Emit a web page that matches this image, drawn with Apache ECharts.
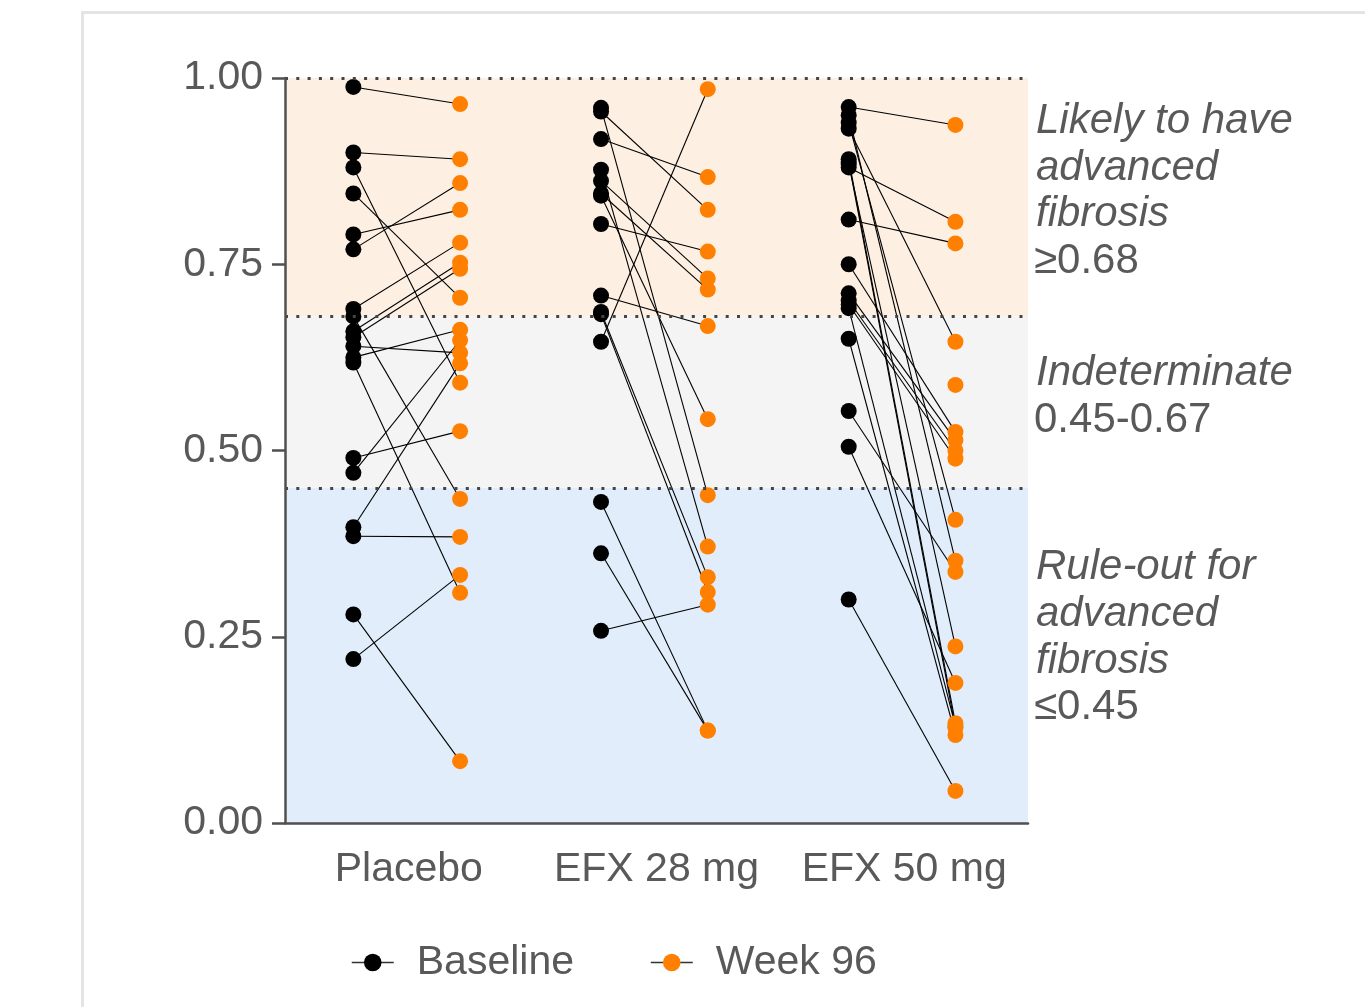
<!DOCTYPE html>
<html><head><meta charset="utf-8">
<script src="https://cdn.jsdelivr.net/npm/echarts@6/dist/echarts.min.js"></script>
<style>html,body{margin:0;padding:0;background:#fff}#c{width:1365px;height:1007px}</style>
</head><body><div id="c"></div>
<script>
// ---- data ----
const groups = ['Placebo', 'EFX 28 mg', 'EFX 50 mg'];
const yTickValues = [0, 0.25, 0.5, 0.75, 1.0];
const thresholds = [0.45, 0.68, 1.0];
const placeboBaseline = [0.988, 0.90, 0.88, 0.845, 0.79, 0.77, 0.69, 0.68, 0.66, 0.652, 0.64, 0.625, 0.618, 0.49, 0.47, 0.397, 0.385, 0.28, 0.22];
const placeboWeek96   = [0.965, 0.891, 0.591, 0.705, 0.823, 0.859, 0.779, 0.435, 0.752, 0.744, 0.631, 0.662, 0.309, 0.526, 0.648, 0.617, 0.384, 0.083, 0.333];
const efx28Baseline = [0.96, 0.955, 0.918, 0.877, 0.862, 0.845, 0.842, 0.804, 0.708, 0.686, 0.683, 0.646, 0.431, 0.362, 0.258];
const efx28Week96   = [0.440, 0.823, 0.867, 0.371, 0.731, 0.716, 0.542, 0.767, 0.667, 0.330, 0.310, 0.985, 0.124, 0.124, 0.293];
const efx50Baseline = [0.961, 0.95, 0.94, 0.932, 0.891, 0.887, 0.884, 0.88, 0.81, 0.75, 0.711, 0.701, 0.696, 0.691, 0.65, 0.553, 0.505, 0.30, null];
const efx50Week96   = [0.937, 0.352, 0.407, 0.646, 0.134, 0.128, 0.237, 0.807, 0.778, 0.525, 0.514, 0.50, 0.489, 0.13, 0.118, 0.337, 0.188, 0.043, 0.588];
const bandLabels = [
  {lines: ['Likely to have', 'advanced', 'fibrosis'], value: '≥0.68'},
  {lines: ['Indeterminate'], value: '0.45-0.67'},
  {lines: ['Rule-out for', 'advanced', 'fibrosis'], value: '≤0.45'}
];

// ---- build ----
const FONT = "'Liberation Sans', Arial, Helvetica, sans-serif";
const GRAY = '#595959';
const AXIS = '#505050';
const BX = 0.276, WX = 0.707;
const allGroups = [[placeboBaseline, placeboWeek96], [efx28Baseline, efx28Week96], [efx50Baseline, efx50Week96]];
const basePts = [], wkPts = [], links = [];
allGroups.forEach(([b, w], g) => {
  b.forEach((v, i) => {
    if (v != null) basePts.push([g + BX, v]);
    if (w[i] != null) wkPts.push([g + WX, w[i]]);
    if (v != null && w[i] != null) links.push({coords: [[g + BX, v], [g + WX, w[i]]]});
  });
});

const chart = echarts.init(document.getElementById('c'));

const graphics = [{
  type: 'rect', silent: true, z: -10,
  shape: {x: 82.5, y: 12.5, width: 1400, height: 1100},
  style: {fill: 'none', stroke: '#e4e4e4', lineWidth: 3}
}];
const blockCenters = [[120, 167, 213, 260], [372, 419], [566, 613, 660, 706]];
bandLabels.forEach((bl, k) => {
  const ys = blockCenters[k];
  bl.lines.forEach((t, j) => {
    graphics.push({type: 'text', silent: true, style: {x: 1036, y: ys[j] + 1, text: t, fill: GRAY,
      fontSize: 42, fontStyle: 'italic', fontFamily: FONT, verticalAlign: 'middle'}});
  });
  graphics.push({type: 'text', silent: true, style: {x: 1034, y: ys[ys.length - 1] + 1, text: bl.value, fill: GRAY,
    fontSize: 42, fontFamily: FONT, verticalAlign: 'middle'}});
});

chart.setOption({
  animation: false,
  textStyle: {fontFamily: FONT},
  grid: {left: 285, right: 337, top: 78, bottom: 184},
  graphic: graphics,
  legend: {
    left: 346, top: 937, itemWidth: 42, itemHeight: 22, itemGap: 76,
    textStyle: {fontSize: 41, color: GRAY, fontFamily: FONT, padding: [0, 0, 0, 18]},
    lineStyle: {color: '#333', width: 1.5, opacity: 1},
    data: ['Baseline', 'Week 96']
  },
  xAxis: {
    type: 'value', min: 0, max: 3, interval: 0.5, z: 10,
    axisLine: {lineStyle: {color: AXIS, width: 2.5}},
    axisTick: {show: false}, splitLine: {show: false},
    axisLabel: {
      fontSize: 41, color: GRAY, margin: 26, fontFamily: FONT,
      formatter: v => {
        const idx = Math.floor(v);
        return Math.abs(v - idx - 0.5) < 1e-6 && groups[idx] ? groups[idx] : '';
      }
    }
  },
  yAxis: {
    type: 'value', min: 0, max: 1, interval: 0.25, z: 10,
    axisLine: {show: true, lineStyle: {color: AXIS, width: 2.5}},
    axisTick: {show: true, length: 13, lineStyle: {color: AXIS, width: 2.5}},
    splitLine: {show: false},
    axisLabel: {fontSize: 41, color: GRAY, margin: 22, fontFamily: FONT, padding: [4, 0, 0, 0],
      formatter: v => yTickValues.some(t => Math.abs(t - v) < 1e-9) ? v.toFixed(2) : ''}
  },
  series: [
    {
      type: 'line', data: [], z: 1, silent: true,
      markArea: {
        silent: true,
        data: [
          [{yAxis: 0, itemStyle: {color: '#e1edfa'}}, {yAxis: thresholds[0]}],
          [{yAxis: thresholds[0], itemStyle: {color: '#f4f4f4'}}, {yAxis: thresholds[1]}],
          [{yAxis: thresholds[1], itemStyle: {color: '#fdf0e3'}}, {yAxis: thresholds[2]}]
        ]
      },
      markLine: {
        silent: true, symbol: 'none', label: {show: false},
        lineStyle: {color: '#444', width: 3, type: [3, 8.3], opacity: 1},
        data: thresholds.map(t => ({yAxis: t}))
      }
    },
    {
      type: 'lines', coordinateSystem: 'cartesian2d', z: 2, silent: true,
      lineStyle: {color: '#000', width: 1.1, opacity: 1},
      data: links
    },
    {
      name: 'Baseline', type: 'line', data: basePts, z: 3,
      symbol: 'circle', symbolSize: 16,
      lineStyle: {width: 0, color: '#000'}, itemStyle: {color: '#000'}
    },
    {
      name: 'Week 96', type: 'line', data: wkPts, z: 4,
      symbol: 'circle', symbolSize: 16,
      lineStyle: {width: 0, color: '#ff8000'}, itemStyle: {color: '#ff8000'}
    }
  ]
});
</script>
</body></html>
